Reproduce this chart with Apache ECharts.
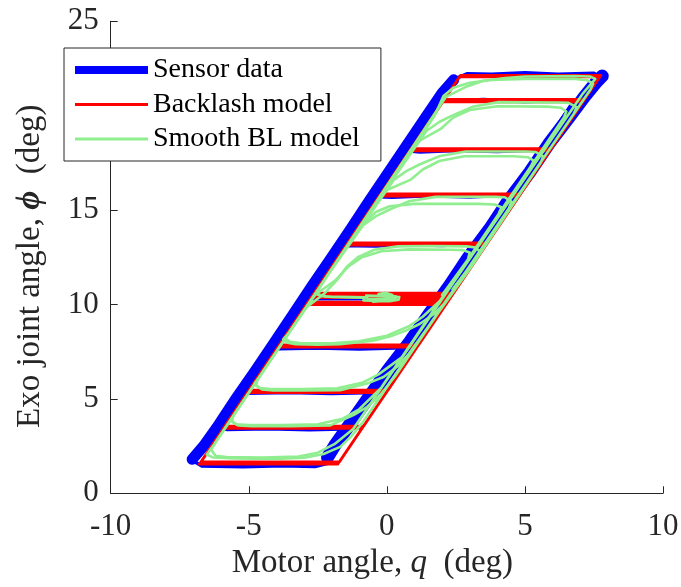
<!DOCTYPE html>
<html><head><meta charset="utf-8">
<script src="https://cdn.jsdelivr.net/npm/echarts@6/dist/echarts.min.js"></script>
<style>html,body{margin:0;padding:0;background:#fff}#c{width:681px;height:587px}</style>
</head><body><div id="c"></div>
<script>
// Axis ranges / ticks
const xRange = [-10, 10], xStep = 5;
const yRange = [0, 25], yStep = 5;

// Sensor data (blue), [q, phi] : full trace
const sensorData = [
[0.3,10.3],[1.2,10.28],[1.95,10.3],
[2.65,11.7],[3.28,13.1],
[3.1,13.2],[2.0,13.12],[0.8,13.18],[-0.4,13.1],[-1.65,13.12],
[-2.47,11.5],[-3.27,9.6],[-4.1,7.8],
[-3.9,7.66],[-2.5,7.7],[-1.0,7.64],[0.3,7.7],[0.7,7.75],
[1.75,10.0],[2.87,12.5],[4.38,15.7],
[4.2,15.78],[3.0,15.7],[1.5,15.76],[0.2,15.68],[-0.58,15.72],
[-1.62,13.5],[-2.73,11.0],[-3.92,8.5],[-5.3,5.42],
[-5.1,5.3],[-3.5,5.34],[-2.0,5.28],[-0.8,5.33],[-0.25,5.38],
[0.98,8.0],[2.33,11.0],[3.99,14.5],[5.62,18.1],
[5.4,18.18],[4.0,18.1],[2.5,18.16],[1.2,18.08],[0.73,18.14],
[-0.69,15.0],[-2.58,11.0],[-4.36,7.0],[-6.0,3.5],
[-5.8,3.38],[-4.3,3.42],[-2.8,3.36],[-1.6,3.4],[-1.25,3.45],
[0.15,6.5],[1.8,10.0],[3.61,14.0],[5.27,17.5],[6.73,20.7],
[6.5,20.85],[5.0,20.74],[3.5,20.86],[2.2,20.76],[1.7,20.8],
[-0.06,17.0],[-1.86,13.0],[-3.73,9.0],[-5.53,5.0],[-6.95,2.0],[-7.05,1.75],
[-6.7,1.45],[-5.2,1.4],[-3.8,1.46],[-2.6,1.42],[-2.1,1.6],
[-1.62,3.0],[-0.02,6.0],[1.93,10.0],[3.83,14.0],[5.73,18.0],[7.22,21.0],[7.8,22.0],
[7.5,22.25],[6.2,22.2],[5.0,22.28],[3.8,22.2],[2.9,22.22],[2.55,22.0],
[1.0,19.0],[-0.33,16.0],[-1.75,13.0],[-2.9,10.4],
[-2.6,10.3],[-1.0,10.32],[0.0,10.3]
];
// Sensor data: dense overlapping passes along the two contact edges
const sensorLeftBand = [
[-7.05,1.8],[-6.64,2.5],[-6.15,3.5],[-5.47,5.0],[-4.76,6.5],[-4.07,8.0],[-3.38,9.5],[-2.7,11.0],
[-2.0,12.5],[-1.31,14.0],[-0.63,15.5],[0.06,17.0],[0.75,18.5],[1.44,20.0],[2.0,21.2],[2.42,21.9]
];
const sensorRightBand = [
[-2.15,1.9],[-1.9,2.5],[-1.42,3.5],[-0.7,5.0],[0.03,6.5],[0.82,8.0],[1.53,9.5],[2.27,11.0],
[2.95,12.5],[3.72,14.0],[4.4,15.5],[5.17,17.0],[5.86,18.5],[6.64,20.0],[7.15,21.0],[7.6,21.8],[7.8,22.1]
];

// Backlash model (red)
const backlashPass1 = [
[0.3,10.24],[2.25,10.24],[3.59,13.14],[-1.46,13.14],[-3.94,7.74],[1.09,7.74],[4.79,15.74],[-0.27,15.74],
[-5.04,5.34],[-0.02,5.34],[5.90,18.14],[0.83,18.14],[-5.92,3.44],[-0.90,3.44],[7.10,20.74],[2.03,20.74],
[-6.79,1.54],[-1.78,1.54],[7.71,22.06],[2.63,22.06],[-2.74,10.36]
];
const backlashPass2 = [
[2.30,10.36],[3.64,13.26],[-1.41,13.26],[-3.89,7.86],[1.15,7.86],[4.84,15.86],[-0.22,15.86],
[-4.99,5.46],[0.04,5.46],[5.95,18.26],[0.89,18.26],[-5.86,3.56],[-0.84,3.56],[7.16,20.86],[2.08,20.86],
[-6.73,1.66],[-1.72,1.66],[7.75,22.14],[2.67,22.14],[-2.68,10.48]
];
const backlashBand = [
[2.36,10.48],[2.41,10.6],[-2.63,10.6],[-2.85,10.12],[2.19,10.12],[2.13,10.0],[-2.90,10.0]
];

// Smooth BL model (green)
const smoothPass1 = [
[2.38,10.8],[3.25,12.5],[3.35,12.85],[3.2,13.02],[2.9,13.08],[1.5,13.1],[0.4,13.08],[-0.45,12.9],[-1.05,12.5],[-1.45,12.0],[-1.8,11.3],[-2.25,10.6],[-2.95,9.8],[-3.55,8.5],
[-3.75,8.15],[-3.6,7.98],[-3.3,7.9],[-2.5,7.87],[-1.7,7.9],[-0.5,8.08],[0.2,8.35],[0.72,8.63],[1.2,8.98],[1.7,9.5],[2.05,10.0],
[4.42,15.1],[4.51,15.45],[4.27,15.68],[3.92,15.7],[1.76,15.7],[0.81,15.47],[0.1,15.03],[-0.39,14.68],[-0.86,14.2],[-2.17,11.5],[-3.77,8.0],[-4.69,6.0],
[-4.73,5.7],[-4.52,5.5],[-4.12,5.45],[-3.0,5.45],[-1.69,5.46],[-0.72,5.81],[-0.12,6.16],[0.36,6.69],[0.75,7.3],
[3.06,12.0],[5.57,17.5],[5.66,17.85],[5.38,18.08],[5.03,18.1],[2.86,18.1],[1.93,17.87],[1.2,17.43],[0.72,17.08],[0.25,16.6],[-1.93,12.0],[-5.15,5.0],[-5.56,4.1],
[-5.6,3.8],[-5.39,3.6],[-4.9,3.55],[-3.5,3.55],[-2.05,3.6],[-1.21,4.14],[-0.72,4.57],[-0.3,5.1],[0.3,6.2],
[4.39,15.0],[6.77,20.1],[6.87,20.45],[6.58,20.68],[6.23,20.7],[4.05,20.72],[3.1,20.47],[2.4,20.03],[1.91,19.68],[1.44,19.2],[-0.55,15.0],[-5.15,5.0],[-6.25,2.6],
[-6.52,2.05],[-6.3,1.9],[-5.5,1.85],[-4.0,1.82],[-3.0,1.88],[-2.29,2.08],[-1.69,2.46],[-1.3,3.0],[-0.85,3.8],
[7.38,21.4],[7.47,21.7],[7.25,21.88],[6.8,21.95],[5.0,21.95],[3.8,21.9],[3.0,21.74],[2.41,21.48],[2.05,21.04],[1.73,20.0],[-2.17,11.5],[-2.44,10.9],
[-2.55,10.6],[-2.4,10.45],[-2.0,10.4],[-1.2,10.38],[-0.8,10.35]
];
const smoothBlob = [
[-0.8,10.35],[-0.85,10.22],[0.1,10.18],[0.42,10.25],[0.45,10.4],[-0.2,10.45],[-0.75,10.48],[-0.7,10.3],
[0.3,10.3],[0.35,10.42],[-0.3,10.55],[-0.05,10.62],[0.2,10.5],[0.0,10.2],[-0.5,10.15]
];
const smoothPass2 = [
[2.0,10.5],[2.94,12.4],[3.0,12.75],[2.75,12.88],[2.3,12.9],[0.8,12.92],[-0.2,12.82],[-0.9,12.5],[-1.4,12.0],[-1.85,11.3],[-2.6,10.5],[-3.5,8.6],
[-3.68,8.2],[-3.5,8.02],[-3.1,7.95],[-2.0,7.95],[-1.0,8.05],[0.0,8.35],[0.8,8.85],[1.3,9.35],[1.93,10.2],
[4.05,14.8],[4.15,15.15],[3.9,15.3],[3.3,15.33],[1.0,15.33],[0.1,15.2],[-0.4,14.9],[-0.75,14.4],[-1.11,13.8],[-4.6,6.2],
[-4.8,5.8],[-4.6,5.58],[-4.2,5.52],[-3.0,5.52],[-1.8,5.56],[-0.9,5.85],[-0.3,6.3],[0.54,7.2],
[5.21,17.3],[5.32,17.62],[5.1,17.8],[4.6,17.85],[2.8,17.85],[1.9,17.6],[1.3,17.15],[0.85,16.6],[-0.1,16.0],[-5.52,4.2],
[-5.66,3.85],[-5.45,3.65],[-5.0,3.62],[-3.8,3.62],[-2.5,3.66],[-1.6,3.95],[-1.0,4.45],[-0.2,5.6],
[6.41,19.9],[6.5,20.22],[6.3,20.42],[5.8,20.48],[4.0,20.5],[3.0,20.3],[2.4,19.9],[1.95,19.3],[1.09,18.6],[-6.16,2.8],
[-6.36,2.3],[-6.2,1.98],[-5.8,1.92],[-4.5,1.9],[-3.2,1.95],[-2.5,2.15],[-1.9,2.6],[-1.22,3.4],
[7.11,21.2],[7.55,21.95],[7.35,22.08],[6.8,22.1],[5.0,22.08],[4.3,22.0],[3.5,21.85],[2.9,21.55],[2.14,21.0],[-2.4,11.0],
[-2.55,10.55],[-2.2,10.42],[-1.2,10.4],[-0.8,10.38]
];

const seriesNames = ['Sensor data', 'Backlash model', 'Smooth BL model'];
const seriesColors = ['#0000ff', '#ff0000', '#90ee90'];

const FONT = 'Liberation Serif';
const AX = '#262626';

const chart = echarts.init(document.getElementById('c'), null, {renderer: 'canvas'});

function lineSeries(name, data, color, width, z) {
  return {
    name: name, type: 'line', data: data, z: z,
    showSymbol: false, symbol: 'none', smooth: false, silent: true,
    lineStyle: {color: color, width: width, join: 'round', cap: 'round'},
    itemStyle: {color: color},
    emphasis: {disabled: true}
  };
}

chart.setOption({
  animation: false,
  backgroundColor: '#fff',
  grid: {left: 110.7, top: 21.3, width: 552.3, height: 472, containLabel: false, outerBoundsMode: 'none'},
  xAxis: {
    type: 'value', min: xRange[0], max: xRange[1], interval: xStep,
    name: '{a|Motor angle, }{b|q}{a|  (deg)}', nameLocation: 'middle', nameGap: 45,
    nameTextStyle: {
      fontFamily: FONT, fontSize: 33, color: AX, padding: [0, 29, 0, 0],
      rich: {a: {fontFamily: FONT, fontSize: 33, color: AX}, b: {fontFamily: FONT, fontSize: 33, color: AX, fontStyle: 'italic'}}
    },
    axisLine: {show: true, onZero: false, lineStyle: {color: AX, width: 1}},
    axisTick: {show: true, inside: true, length: 7, lineStyle: {color: AX, width: 1}},
    axisLabel: {fontFamily: FONT, fontSize: 31, color: AX, margin: 18},
    splitLine: {show: false}
  },
  yAxis: {
    type: 'value', min: yRange[0], max: yRange[1], interval: yStep,
    name: '{a|Exo joint angle, }{p|ϕ}{a|  (deg)}', nameLocation: 'middle', nameGap: 64,
    nameTextStyle: {
      fontFamily: FONT, fontSize: 33, color: AX, padding: [0, 18, 0, 0],
      rich: {a: {fontFamily: FONT, fontSize: 33, color: AX}, p: {fontFamily: FONT, fontSize: 33, color: AX, fontStyle: 'italic', fontWeight: 'bold'}}
    },
    axisLine: {show: true, onZero: false, lineStyle: {color: AX, width: 1}},
    axisTick: {show: true, inside: true, length: 7, lineStyle: {color: AX, width: 1}},
    axisLabel: {fontFamily: FONT, fontSize: 31, color: AX, margin: 12},
    splitLine: {show: false}
  },
  legend: {
    orient: 'vertical', left: 64, top: 48,
    padding: [7, 21, 7, 11],
    itemWidth: 73, itemHeight: 24, itemGap: 4.5,
    backgroundColor: '#fff', borderColor: AX, borderWidth: 1, borderRadius: 0,
    selectedMode: false,
    textStyle: {fontFamily: FONT, fontSize: 28, color: '#000', lineHeight: 30},
    data: [
      {name: seriesNames[0], icon: 'path://M0,0H73V8H0Z', itemStyle: {color: seriesColors[0], borderWidth: 0}},
      {name: seriesNames[1], icon: 'path://M0,0H73V3H0Z', itemStyle: {color: seriesColors[1], borderWidth: 0}},
      {name: seriesNames[2], icon: 'path://M0,0H73V3H0Z', itemStyle: {color: seriesColors[2], borderWidth: 0}}
    ]
  },
  series: [
    lineSeries(seriesNames[0], sensorData, seriesColors[0], 3.5, 2),
    lineSeries(seriesNames[0], sensorLeftBand, seriesColors[0], 11, 2),
    lineSeries(seriesNames[0], sensorRightBand, seriesColors[0], 13, 2),
    lineSeries(seriesNames[1], backlashPass1.concat(backlashPass2, backlashBand), seriesColors[1], 2.8, 3),
    lineSeries(seriesNames[2], smoothPass1.concat(smoothBlob), seriesColors[2], 2.6, 4),
    lineSeries(seriesNames[2], smoothPass2, seriesColors[2], 2.6, 4)
  ]
});
</script>
</body></html>
